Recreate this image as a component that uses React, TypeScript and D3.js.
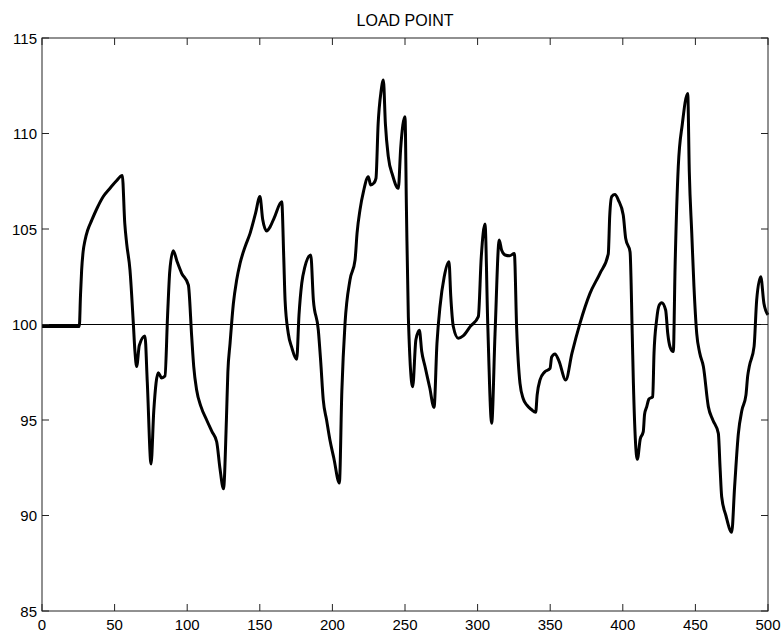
import React from "react";
import * as d3 from "d3";

// load point signal (x, value)
const xs = [
  0, 25, 25.7, 26.5, 27.3, 28.3, 29.6, 31.5, 34.2, 38, 42.2, 47, 51, 55.3,
  57, 58.3, 60.6, 62.9, 64, 65.2, 67, 70.9, 72.5, 75.1, 77, 80.1, 82.4, 84.7,
  86.5, 88, 90.4, 93, 96.2, 100.8, 103.1, 104.5, 106.5, 109.5, 113.4, 117,
  120.3, 122.5, 125, 127, 128, 129.5, 131.8, 134, 136.4, 140, 143.3, 147,
  150.1, 152, 154.7, 157, 160, 165.1, 166.5, 167.4, 169.6, 172, 175.4, 177,
  178.9, 181, 185.1, 186.9, 190.3, 192, 193.7, 196, 198.3, 201, 204.8, 206.5,
  208.7, 212.1, 215.6, 217, 219, 221.5, 224.7, 226.4, 228.5, 230, 231.5,
  233.5, 235.1, 236.5, 238.5, 241.5, 245.4, 247, 250, 251, 252.3, 255.3,
  257.5, 259.9, 261.5, 263.8, 267, 270, 272, 274.1, 277, 280.3, 281.5, 283.3,
  286.7, 290, 295, 300.5, 302.5, 305.1, 307, 309.7, 312, 314.9, 316.5, 318.9,
  322, 325.3, 326.9, 329.2, 331.5, 333.8, 337, 340, 341, 343, 346, 349.9, 351,
  353.3, 356, 360.7, 365, 370.5, 377.4, 384.3, 390, 391, 392.4, 394.6, 397,
  400.3, 402, 405, 406.5, 407.3, 410, 412, 414.1, 415, 416.5, 418, 420.6,
  421.5, 423.3, 425, 426.8, 429.5, 431, 432.5, 434.8, 436, 438.2, 441, 444.7,
  445.8, 447.5, 449, 450.9, 453, 455.5, 458.9, 462, 465.8, 467, 468.1, 471,
  475, 477, 479.6, 482, 484.8, 486, 487.1, 490.4, 492.2, 495, 497.2, 500,
];
const ys = [
  99.9, 99.9, 99.9, 101.5, 102.85, 103.8, 104.4, 104.95, 105.45, 106.1, 106.7,
  107.15, 107.5, 107.8, 105.3, 104.25, 102.85, 100.06, 98.6, 97.8, 98.9, 99.4,
  97, 92.7, 95.5, 97.48, 97.2, 97.3, 100.5, 102.8, 103.86, 103.3, 102.68,
  102.07, 99.36, 97.8, 96.57, 95.7, 95.0, 94.4, 93.86, 92.5, 91.4, 95, 97.5,
  99.0, 101.1, 102.3, 103.2, 104.1, 104.77, 105.8, 106.7, 105.5, 104.9, 105.1,
  105.6, 106.43, 103.5, 101.28, 99.54, 98.8, 98.18, 100.5, 102.16, 103.0,
  103.64, 101.28, 99.71, 98, 96.05, 95, 93.95, 93, 91.7, 96.5, 100.06, 102.33,
  103.38, 104.8, 106, 107, 107.74, 107.3, 107.4, 107.65, 110.5, 112.2, 112.8,
  110.5, 108.79, 107.8, 107.13, 109.2, 110.88, 106, 100.41, 96.74, 99.2, 99.7,
  98.6, 97.8, 96.7, 95.66, 99, 100.93, 102.5, 103.29, 101.5, 99.88, 99.28,
  99.4, 99.9, 100.41, 103.5, 105.26, 100, 94.83, 99.5, 104.42, 103.9, 103.64,
  103.6, 103.72, 99.8, 96.92, 96.1, 95.79, 95.55, 95.4, 96.3, 97.1, 97.5,
  97.7, 98.3, 98.46, 98.1, 97.1, 98.5, 100.06, 101.63, 102.68, 103.7, 105.7,
  106.7, 106.8, 106.5, 105.73, 104.5, 103.8, 99.5, 96.92, 92.94, 94, 94.39,
  95.3, 95.7, 96.1, 96.22, 98.5, 100.24, 101.0, 101.14, 100.76, 99.5, 98.84,
  98.58, 103, 108.26, 110.5, 112.1, 108, 104.77, 102, 99.54, 98.5, 97.8, 95.7,
  95, 94.3, 92.5, 90.98, 90, 89.12, 91.5, 94.3, 95.5, 96.3, 97.3, 97.8, 98.84,
  101.28, 102.5, 101.1, 100.5,
];

const xTicks = [0, 50, 100, 150, 200, 250, 300, 350, 400, 450, 500];
const yTicks = [85, 90, 95, 100, 105, 110, 115];
const refLevel = 100;
const title = "LOAD POINT";

const width = 784;
const height = 637;
const left = 42;
const right = 768;
const top = 38;
const bottom = 611;
const tick = 7;
const font = "'Liberation Sans', Arial, sans-serif";

export default function App() {
  const x = d3.scaleLinear().domain([0, 500]).range([left, right]);
  const y = d3.scaleLinear().domain([85, 115]).range([bottom, top]);
  const line = d3
    .line<number>()
    .x((d, i) => x(xs[i]))
    .y((d) => y(d))
    .curve(d3.curveMonotoneX);

  return (
    <svg
      width={width}
      height={height}
      style={{ position: "absolute", left: 0, top: 0 }}
      fontFamily={font}
    >
      <rect width={width} height={height} fill="#fff" />
      <text x={(left + right) / 2} y={26} textAnchor="middle" fontSize={16}>
        {title}
      </text>
      <line
        x1={left}
        x2={right}
        y1={y(refLevel)}
        y2={y(refLevel)}
        stroke="#000"
        strokeWidth={1}
      />
      <path
        d={line(ys) ?? ""}
        fill="none"
        stroke="#000"
        strokeWidth={3}
        strokeLinejoin="round"
      />
      <rect
        x={left}
        y={top}
        width={right - left}
        height={bottom - top}
        fill="none"
        stroke="#222"
        strokeWidth={1}
      />
      {xTicks.map((t) => (
        <g key={"x" + t}>
          <line x1={x(t)} x2={x(t)} y1={bottom} y2={bottom - tick} stroke="#222" />
          <line x1={x(t)} x2={x(t)} y1={top} y2={top + tick} stroke="#222" />
          <text x={x(t)} y={bottom + 19} textAnchor="middle" fontSize={15}>
            {t}
          </text>
        </g>
      ))}
      {yTicks.map((t) => (
        <g key={"y" + t}>
          <line x1={left} x2={left + tick} y1={y(t)} y2={y(t)} stroke="#222" />
          <line x1={right} x2={right - tick} y1={y(t)} y2={y(t)} stroke="#222" />
          <text x={left - 5} y={y(t) + 5.5} textAnchor="end" fontSize={15}>
            {t}
          </text>
        </g>
      ))}
    </svg>
  );
}
